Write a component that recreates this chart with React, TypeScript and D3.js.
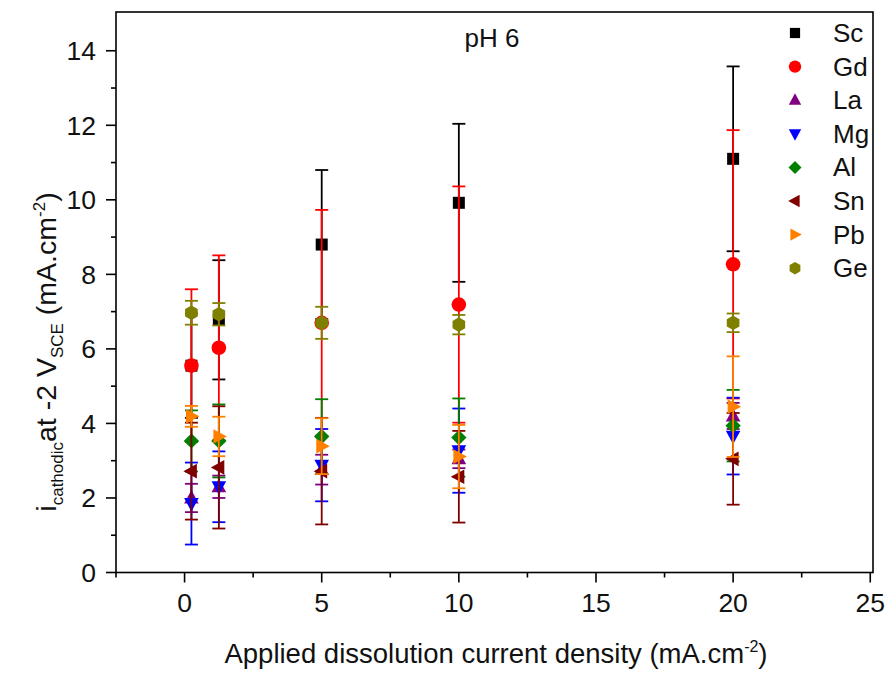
import React from "react";
import * as d3 from "d3";

const xValues = [0.25, 1.25, 5, 10, 20];
const seriesNames = ["Sc", "Gd", "La", "Mg", "Al", "Sn", "Pb", "Ge"];
const seriesColors = ["#000000", "#ff0000", "#800080", "#0000ff", "#008000", "#800000", "#ff8000", "#808000"];
const seriesShapes = ["square", "circle", "triUp", "triDown", "diamond", "triLeft", "triRight", "hexagon"];

const Sc = [5.55, 6.78, 8.8, 9.92, 11.1];
const ScErr = [1.4, 1.6, 2.0, 2.12, 2.48];
const Gd = [5.55, 6.03, 6.7, 7.19, 8.27];
const GdErr = [2.05, 2.48, 3.03, 3.17, 3.6];
const La = [2.0, 2.3, 2.76, 3.05, 4.2];
const LaErr = [0.38, 0.3, 0.4, 0.25, 0.35];
const Mg = [1.85, 2.3, 2.88, 3.27, 3.66];
const MgErr = [1.1, 0.95, 0.97, 1.13, 1.03];
const Al = [3.53, 3.53, 3.65, 3.62, 3.94];
const AlErr = [0.82, 0.98, 1.0, 1.05, 0.96];
const Sn = [2.72, 2.82, 2.72, 2.57, 3.05];
const SnErr = [1.3, 1.64, 1.43, 1.23, 1.23];
const Pb = [4.19, 3.65, 3.39, 3.11, 4.45];
const PbErr = [0.28, 0.53, 0.75, 0.85, 1.35];
const Ge = [6.97, 6.93, 6.7, 6.65, 6.7];
const GeErr = [0.32, 0.3, 0.43, 0.26, 0.25];

const allValues = [Sc, Gd, La, Mg, Al, Sn, Pb, Ge];
const allErrors = [ScErr, GdErr, LaErr, MgErr, AlErr, SnErr, PbErr, GeErr];

const xMajorTicks = [0, 5, 10, 15, 20, 25];
const xMinorTicks = [-2.5, 2.5, 7.5, 12.5, 17.5, 22.5];
const yMajorTicks = [0, 2, 4, 6, 8, 10, 12, 14];
const yMinorTicks = [1, 3, 5, 7, 9, 11, 13];

const L = 116, R = 873, T = 12, B = 572.5;
const FONT = "'Liberation Sans', Arial, sans-serif";

function Marker({ shape, x, y, color, s = 1 }: { shape: string; x: number; y: number; color: string; s?: number }) {
  const r = 7.3 * s;
  switch (shape) {
    case "square":
      return <rect x={x - 6 * s} y={y - 6 * s} width={12 * s} height={12 * s} fill={color} />;
    case "circle":
      return <circle cx={x} cy={y} r={r} fill={color} />;
    case "triUp":
      return <path d={`M${x},${y - r * 1.1}L${x + r},${y + r * 0.75}L${x - r},${y + r * 0.75}Z`} fill={color} />;
    case "triDown":
      return <path d={`M${x},${y + r * 1.1}L${x + r},${y - r * 0.75}L${x - r},${y - r * 0.75}Z`} fill={color} />;
    case "triLeft":
      return <path d={`M${x - r * 1.1},${y}L${x + r * 0.75},${y - r}L${x + r * 0.75},${y + r}Z`} fill={color} />;
    case "triRight":
      return <path d={`M${x + r * 1.1},${y}L${x - r * 0.75},${y - r}L${x - r * 0.75},${y + r}Z`} fill={color} />;
    case "diamond":
      return <path d={`M${x},${y - r * 1.05}L${x + r * 1.05},${y}L${x},${y + r * 1.05}L${x - r * 1.05},${y}Z`} fill={color} />;
    case "hexagon": {
      const pts = d3.range(6).map((i) => {
        const a = (Math.PI / 3) * i + Math.PI / 6;
        return `${x + r * Math.cos(a)},${y + r * Math.sin(a)}`;
      });
      return <polygon points={pts.join(" ")} fill={color} />;
    }
    default:
      return null;
  }
}

export default function App() {
  const xScale = d3.scaleLinear().domain([-2.5, 25.1]).range([L, R]);
  const yScale = d3.scaleLinear().domain([0, 15.04]).range([B, T]);
  const capW = 6.5;

  return (
    <svg width={891} height={675} style={{ display: "block", position: "absolute", left: 0, top: 0 }}>
      <rect x={0} y={0} width={891} height={675} fill="#ffffff" />
      {/* data */}
      {seriesNames.map((name, si) => (
        <g key={name}>
          {xValues.map((xv, i) => {
            const v = allValues[si][i];
            const e = allErrors[si][i];
            const cx = xScale(xv);
            const y1 = yScale(v + e);
            const y2 = yScale(v - e);
            const col = seriesColors[si];
            return (
              <g key={i}>
                <line x1={cx} x2={cx} y1={y1} y2={y2} stroke={col} strokeWidth={1.8} />
                <line x1={cx - capW} x2={cx + capW} y1={y1} y2={y1} stroke={col} strokeWidth={1.8} />
                <line x1={cx - capW} x2={cx + capW} y1={y2} y2={y2} stroke={col} strokeWidth={1.8} />
                <Marker shape={seriesShapes[si]} x={cx} y={yScale(v)} color={col} />
              </g>
            );
          })}
        </g>
      ))}
      {/* frame */}
      <rect x={L} y={T} width={R - L} height={B - T} fill="none" stroke="#000" strokeWidth={1.6} />
      {/* x ticks */}
      {xMajorTicks.map((t) => (
        <g key={"xm" + t}>
          <line x1={xScale(t)} x2={xScale(t)} y1={B} y2={B + 10} stroke="#000" strokeWidth={1.6} />
          <text x={xScale(t)} y={612} textAnchor="middle" fontFamily={FONT} fontSize={26.5} fill="#111">
            {t}
          </text>
        </g>
      ))}
      {xMinorTicks.map((t) => (
        <line key={"xn" + t} x1={xScale(t)} x2={xScale(t)} y1={B} y2={B + 5} stroke="#000" strokeWidth={1.6} />
      ))}
      {/* y ticks */}
      {yMajorTicks.map((t) => (
        <g key={"ym" + t}>
          <line x1={L - 10} x2={L} y1={yScale(t)} y2={yScale(t)} stroke="#000" strokeWidth={1.6} />
          <text x={96} y={yScale(t) + 9.5} textAnchor="end" fontFamily={FONT} fontSize={26.5} fill="#111">
            {t}
          </text>
        </g>
      ))}
      {yMinorTicks.map((t) => (
        <line key={"yn" + t} x1={L - 5} x2={L} y1={yScale(t)} y2={yScale(t)} stroke="#000" strokeWidth={1.6} />
      ))}
      {/* axis titles */}
      <text x={496} y={663} textAnchor="middle" fontFamily={FONT} fontSize={27.5} fill="#111">
        Applied dissolution current density (mA.cm
        <tspan dy={-11} fontSize={16}>-2</tspan>
        <tspan dy={11}>)</tspan>
      </text>
      <text
        transform={`translate(56, 352) rotate(-90)`}
        textAnchor="middle"
        fontFamily={FONT}
        fontSize={28.5}
        fill="#111"
      >
        i<tspan dy={7} fontSize={17}>cathodic</tspan>
        <tspan dy={-7}>at -2 V</tspan>
        <tspan dy={7} fontSize={17}>SCE</tspan>
        <tspan dy={-7}> (mA.cm</tspan>
        <tspan dy={-11} fontSize={17}>-2</tspan>
        <tspan dy={11}>)</tspan>
      </text>
      {/* pH label */}
      <text x={492} y={47} textAnchor="middle" fontFamily={FONT} fontSize={26} fill="#111">
        pH 6
      </text>
      {/* legend */}
      {seriesNames.map((name, si) => {
        const ly = 33 + si * 33.6;
        return (
          <g key={"lg" + name}>
            <Marker shape={seriesShapes[si]} x={795} y={ly} color={seriesColors[si]} s={0.85} />
            <text x={833} y={ly + 9} fontFamily={FONT} fontSize={26} fill="#111">
              {name}
            </text>
          </g>
        );
      })}
    </svg>
  );
}
